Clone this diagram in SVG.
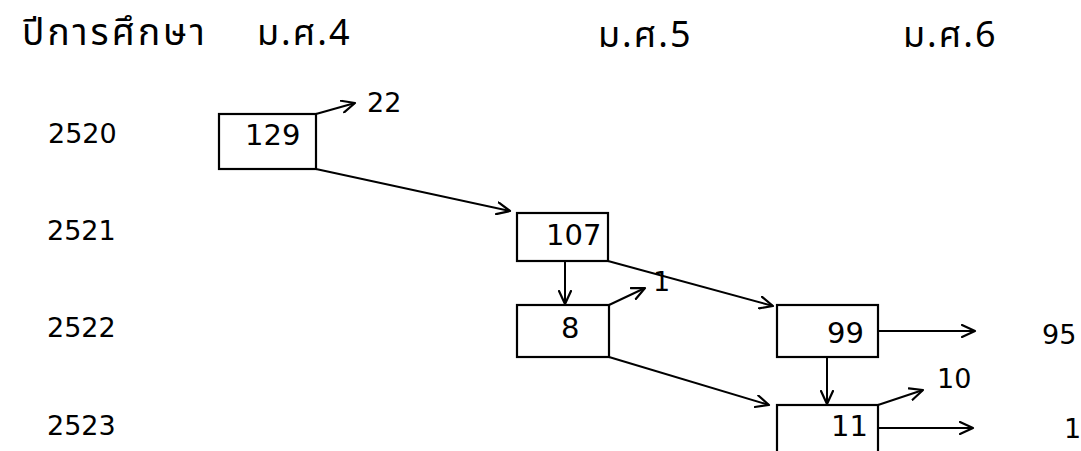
<svg xmlns="http://www.w3.org/2000/svg" width="1081" height="451" viewBox="0 0 1081 451">
<defs>
<marker id="arr" markerUnits="userSpaceOnUse" markerWidth="16" markerHeight="14" refX="14" refY="7" orient="auto" viewBox="0 0 16 14">
<path d="M1,1 L14,7 L1,13" fill="none" stroke="#000" stroke-width="2.2" stroke-linecap="round" stroke-linejoin="round"/>
</marker>
<style>
.box{fill:none;stroke:#000;stroke-width:2.2}
.lbl{font-family:"DejaVu Sans","Liberation Sans",sans-serif;font-size:27px;fill:#000}
.big{font-size:29px}
.th{font-family:"Noto Sans Thai","Loma","Garuda","Norasi","DejaVu Sans",sans-serif;font-size:36px;letter-spacing:2px;fill:#000}
.thl{font-size:37px;letter-spacing:3px}
.ln{fill:none;stroke:#000;stroke-width:2;marker-end:url(#arr)}
</style>
</defs>
<rect width="1081" height="451" fill="#fff"/>
<g id="header">
<text class="th thl" x="22" y="45">ปีการศึกษา</text>
<text class="th" x="257" y="45">ม.ศ.4</text>
<text class="th" x="598" y="47">ม.ศ.5</text>
<text class="th" x="903" y="47">ม.ศ.6</text>
</g>
<g id="years">
<text class="lbl" x="48" y="143">2520</text>
<text class="lbl" x="47" y="240">2521</text>
<text class="lbl" x="47" y="337">2522</text>
<text class="lbl" x="47" y="435">2523</text>
</g>
<g id="n129"><rect class="box" x="219" y="114" width="97" height="55"/><text class="lbl big" x="245" y="145">129</text></g>
<g id="n107"><rect class="box" x="517" y="213" width="91" height="48"/><text class="lbl big" x="546" y="245">107</text></g>
<g id="n8"><rect class="box" x="517" y="305" width="92" height="52"/><text class="lbl big" x="561" y="338">8</text></g>
<g id="n99"><rect class="box" x="777" y="305" width="101" height="52"/><text class="lbl big" x="827" y="343">99</text></g>
<g id="n11"><rect class="box" x="777" y="405" width="101" height="52"/><text class="lbl big" x="831" y="436">11</text></g>
<g id="outputs">
<text class="lbl" x="367" y="112">22</text>
<text class="lbl" x="653" y="291">1</text>
<text class="lbl" x="1042" y="344">95</text>
<text class="lbl" x="937" y="388">10</text>
<text class="lbl" x="1064" y="438">1</text>
</g>
<g id="connectors">
<line class="ln" x1="316" y1="114" x2="355" y2="103"/>
<line class="ln" x1="316" y1="169" x2="510" y2="211"/>
<line class="ln" x1="565" y1="261" x2="565" y2="304"/>
<line class="ln" x1="608" y1="261" x2="773" y2="306"/>
<line class="ln" x1="609" y1="305" x2="645" y2="288"/>
<line class="ln" x1="609" y1="357" x2="769" y2="405"/>
<line class="ln" x1="827" y1="357" x2="827" y2="404"/>
<line class="ln" x1="878" y1="331" x2="975" y2="331"/>
<line class="ln" x1="878" y1="405" x2="923" y2="390"/>
<line class="ln" x1="878" y1="428" x2="973" y2="428"/>
</g>
</svg>
